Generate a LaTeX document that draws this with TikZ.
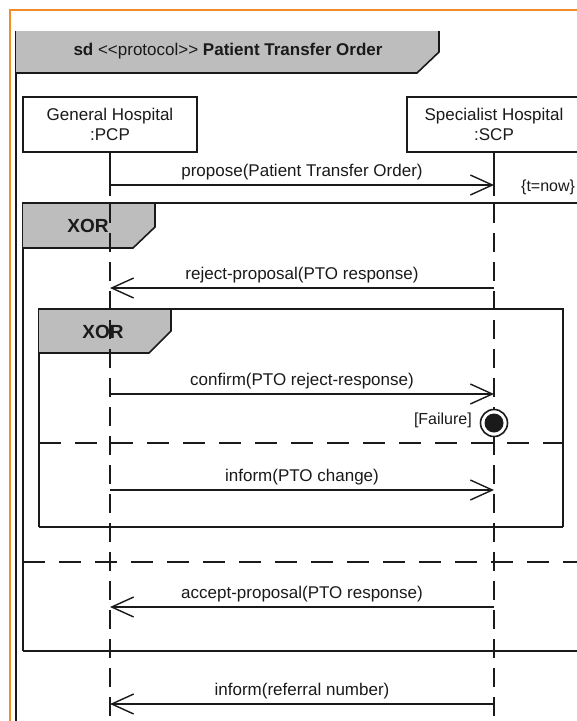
\documentclass[tikz,border=0pt]{standalone}
\usepackage{fontspec}
\setmainfont{Liberation Sans}
\usetikzlibrary{arrows.meta,calc}
\definecolor{framegray}{HTML}{BDBDBD}
\definecolor{edgeorange}{HTML}{F28C28}
\definecolor{ink}{HTML}{1A1A1A}

\begin{document}
\begin{tikzpicture}[x=1pt,y=-1pt,
  every node/.style={font=\fontsize{17}{20}\selectfont, text=ink},
  frameline/.style={draw=ink, line width=1.6pt},
  tagfill/.style={fill=framegray},
  lifebox/.style={draw=ink, line width=1.5pt, fill=white, minimum width=174pt,
    minimum height=55pt, align=center, inner sep=0pt},
  lifeline/.style={draw=ink, line width=1.4pt, dash pattern=on 19pt off 10pt},
  lifehead/.style={draw=ink, line width=1.4pt},
  separator/.style={draw=ink, line width=1.5pt, dash pattern=on 22pt off 14pt},
  msg/.style={draw=ink, line width=1.4pt,
    -{Straight Barb[length=22pt, width=20pt, line width=1.4pt]}},
  lbl/.style={anchor=base, inner sep=0pt, yshift=9pt},
  tagtext/.style={font=\fontsize{19}{22}\selectfont\bfseries},
]
\useasboundingbox (0,0) rectangle (577,721);
\clip (0,0) rectangle (577,721);
\fill[white] (0,0) rectangle (577,721);

% page border
\draw[edgeorange, line width=2pt] (10,740) -- (10,10) -- (600,10);

% diagram frame with its name tag
\draw[frameline] (16,31) -- (16,740);
\fill[tagfill] (16,31) -- (439,31) -- (439,52) -- (417,73) -- (16,73) -- cycle;
\draw[frameline] (439,31) -- (439,52) -- (417,73) -- (16,73);
\node (title) at (228,51) {\textbf{sd} <\kern0pt<protocol>\kern0pt> \textbf{Patient Transfer Order}};

% outer XOR fragment
\draw[frameline] (600,203) -- (23,203) -- (23,651);
\draw[draw=ink, line width=2pt] (23,651) -- (600,651);
\fill[tagfill] (23,203) -- (155,203) -- (155,227) -- (133,248) -- (23,248) -- cycle;
\draw[frameline] (23,203) -- (155,203) -- (155,227) -- (133,248) -- (23,248);
\node[tagtext] (xorA) at (88,226) {XOR};

% inner XOR fragment
\draw[frameline] (563,527) -- (563,309) -- (39,309) -- (39,527);
\draw[draw=ink, line width=2pt] (39,527) -- (563,527);
\fill[tagfill] (39,309) -- (171,309) -- (171,331) -- (149,353) -- (39,353) -- cycle;
\draw[frameline] (39,309) -- (171,309) -- (171,331) -- (149,353) -- (39,353);
\node[tagtext] (xorB) at (103,332) {XOR};

% operand separators
\draw[separator] (39,443) -- (563,443);
\draw[separator] (23,562) -- (600,562);

% lifelines
\node[lifebox] (pcp) at (110,124.5) {General Hospital\\:PCP};
\node[lifebox] (scp) at (494,124.5) {Specialist Hospital\\:SCP};
\coordinate (pcpneck) at (110,196);
\coordinate (scpneck) at (494,196);
\coordinate (pcpfoot) at (110,740);
\coordinate (scpfoot) at (494,740);
\draw[lifehead] (pcp.south) -- (pcpneck);
\draw[lifehead] (scp.south) -- (scpneck);
\draw[lifeline] (pcpneck) ++(0,8) -- (pcpfoot);
\draw[lifeline] (scpneck) ++(0,8) -- (scpfoot);

% message anchor points on the lifelines
\coordinate (pA) at (110,185);  \coordinate (sA) at (494,185);
\coordinate (pB) at (110,288);  \coordinate (sB) at (494,288);
\coordinate (pC) at (110,394);  \coordinate (sC) at (494,394);
\coordinate (pD) at (110,490);  \coordinate (sD) at (494,490);
\coordinate (pE) at (110,607);  \coordinate (sE) at (494,607);
\coordinate (pF) at (110,704);  \coordinate (sF) at (494,704);

% messages
\draw[msg] (pA) -- node[lbl] (lA) {propose(Patient Transfer Order)} (sA);
\draw[msg] (sB) -- node[lbl] (lB) {reject-proposal(PTO response)} (pB);
\draw[msg] (pC) -- node[lbl] (lC) {confirm(PTO reject-response)} (sC);
\draw[msg] (pD) -- node[lbl] (lD) {inform(PTO change)} (sD);
\draw[msg] (sE) -- node[lbl] (lE) {accept-proposal(PTO response)} (pE);
\draw[msg] (sF) -- node[lbl] (lF) {inform(referral number)} (pF);

% timing constraint
\node[anchor=base west, inner sep=0pt, font=\fontsize{16}{19}\selectfont] (tnow) at (521,191) {\{t=now\}};

% stop on failure
\node[anchor=base east, inner sep=0pt, font=\fontsize{16}{19}\selectfont] (fail) at (472,424) {[Failure]};
\node[draw=ink, line width=1.6pt, circle, minimum size=27pt, inner sep=0pt, fill=white] (stop) at (494,423) {};
\fill[ink] (stop.center) circle (9.5);
\end{tikzpicture}
\end{document}
